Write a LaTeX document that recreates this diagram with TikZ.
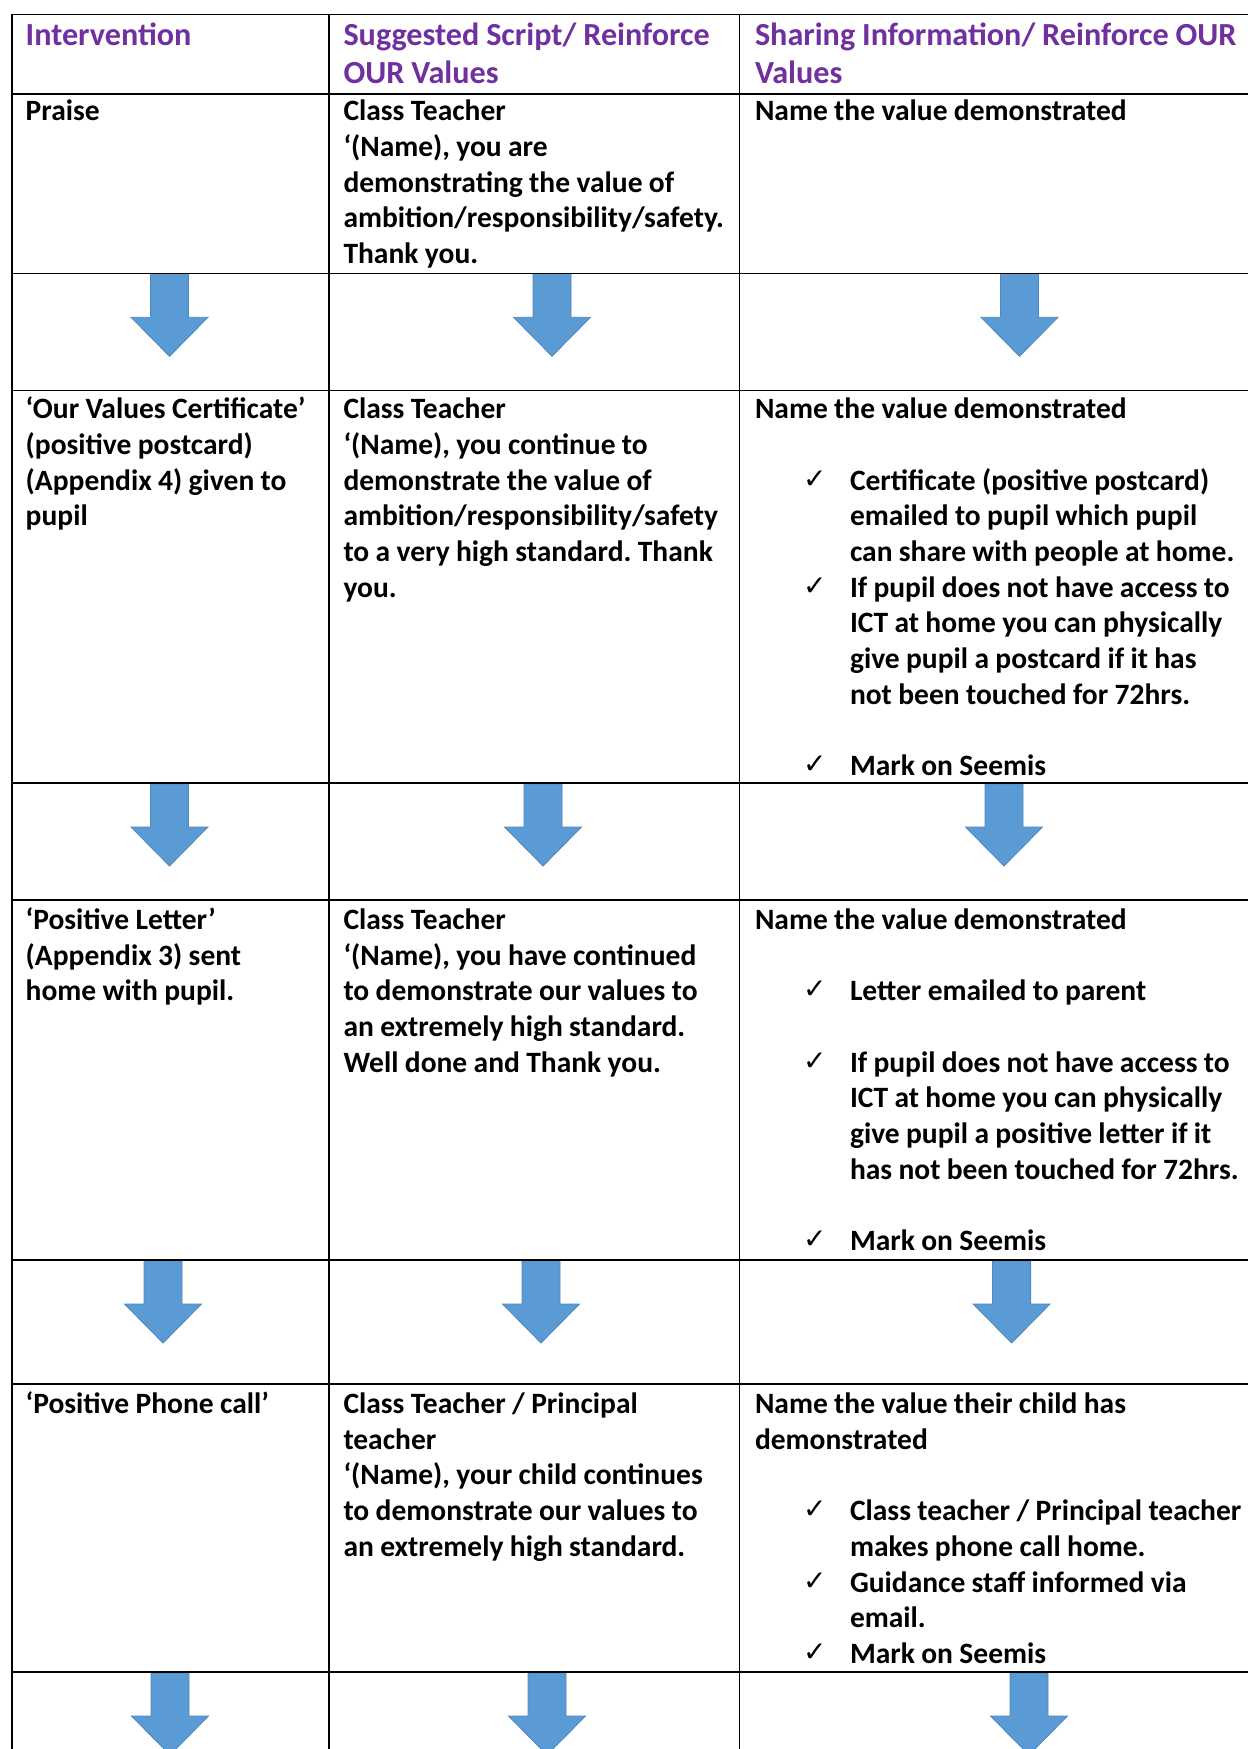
\documentclass[tikz,border=0pt]{standalone}
\usepackage{fontspec}
\setmainfont{Carlito}
\newfontfamily\chkfont{DejaVu Sans}
\definecolor{hdr}{HTML}{7030A0}
\definecolor{arr}{HTML}{5B9BD5}
\newcommand{\tightsp}{\spaceskip 0.215em plus 0.02em\relax\xspaceskip 0.215em plus 0.02em\relax}
\frenchspacing
\begin{document}
\begin{tikzpicture}[x=0.376pt,y=-0.376pt,
  body/.style={anchor=base west, inner sep=0pt, outer sep=0pt, text width=230pt, align=left,
    font={\fontsize{11.1}{13.43}\selectfont\bfseries}, execute at begin node={\tightsp}},
  head/.style={body, text=hdr, font={\fontsize{12.1}{14.65}\selectfont\bfseries}},
  tick/.style={anchor=base west, inner sep=0pt, outer sep=0pt, font=\chkfont\fontsize{10.5}{12}\selectfont},
  rule/.style={line width=0.6pt, line cap=rect},
  downarrow/.style={fill=arr, draw=arr!88!black, line width=0.3pt},
  downarr/.pic={\path[downarrow] (-19,1) -- (19,1) -- (19,44) -- (38.5,44) -- (0,83) -- (-38.5,44) -- (-19,44) -- cycle;}]
\useasboundingbox (0,0) rectangle (1247,1749);
\fill[white] (0,0) rectangle (1247,1749);

% arrows
\foreach \cx/\ty in {169.5/273.3, 552/273.3, 1019.5/273.3,
                     169.5/783, 543/783, 1004/783,
                     163/1260, 541/1260, 1011.6/1260,
                     170/1672, 547/1672, 1029/1672}
  \pic at (\cx,\ty) {downarr};

% grid
\foreach \yy in {14.5, 93.7, 273.3, 390.4, 783, 900, 1260, 1384.2, 1672}
  \draw[rule] (12,\yy) -- (1247,\yy);
\foreach \xx in {12, 329, 739.5}
  \draw[rule] (\xx,14.5) -- (\xx,1749);

% header
\node[head] (h1) at (25.7,45) {Intervention};
\node[head] (h2) at (343.5,45) {Suggested Script/ Reinforce\\OUR Values};
\node[head] (h3) at (755,45) {Sharing Information/ Reinforce OUR\\Values};

% row 1
\node[body] (a1) at (25.7,120.8) {Praise};
\node[body] (a2) at (343.5,120.8) {Class Teacher\\‘(Name), you are\\demonstrating the value of\\ambition/responsibility/safety.\\Thank you.};
\node[body] (a3) at (755,120.8) {Name the value demonstrated};

% row 2
\node[body] (b1) at (25.7,418.6) {‘Our Values Certificate’\\(positive postcard)\\(Appendix 4) given to\\pupil};
\node[body] (b2) at (343.5,418.6) {Class Teacher\\‘(Name), you continue to\\demonstrate the value of\\ambition/responsibility/safety\\to a very high standard. Thank\\you.};
\node[body] (b3) at (755,418.6) {Name the value demonstrated};
\node[tick] (b3t1) at (803,{418.6+2*35.7-2}) {✓};
\node[body] (b3i1) at (850,{418.6+2*35.7}) {Certificate (positive postcard)\\emailed to pupil which pupil\\can share with people at home.};
\node[tick] (b3t2) at (803,{418.6+5*35.7-2}) {✓};
\node[body] (b3i2) at (850,{418.6+5*35.7}) {If pupil does not have access to\\ICT at home you can physically\\give pupil a postcard if it has\\not been touched for 72hrs.};
\node[tick] (b3t3) at (803,{418.6+10*35.7-2}) {✓};
\node[body] (b3i3) at (850,{418.6+10*35.7}) {Mark on Seemis};

% row 3
\node[body] (c1) at (25.7,929.4) {‘Positive Letter’\\(Appendix 3) sent\\home with pupil.};
\node[body] (c2) at (343.5,929.4) {Class Teacher\\‘(Name), you have continued\\to demonstrate our values to\\an extremely high standard.\\Well done and Thank you.};
\node[body] (c3) at (755,929.4) {Name the value demonstrated};
\node[tick] (c3t1) at (803,{929.4+2*35.7-2}) {✓};
\node[body] (c3i1) at (850,{929.4+2*35.7}) {Letter emailed to parent};
\node[tick] (c3t2) at (803,{929.4+4*35.7-2}) {✓};
\node[body] (c3i2) at (850,{929.4+4*35.7}) {If pupil does not have access to\\ICT at home you can physically\\give pupil a positive letter if it\\has not been touched for 72hrs.};
\node[tick] (c3t3) at (803,{929.4+9*35.7-2}) {✓};
\node[body] (c3i3) at (850,{929.4+9*35.7}) {Mark on Seemis};

% row 4
\node[body] (d1) at (25.7,1413.5) {‘Positive Phone call’};
\node[body] (d2) at (343.5,1413.5) {Class Teacher / Principal\\teacher\\‘(Name), your child continues\\to demonstrate our values to\\an extremely high standard.};
\node[body] (d3) at (755,1413.5) {Name the value their child has\\demonstrated};
\node[tick] (d3t1) at (803,{1413.5+3*35.7-2}) {✓};
\node[body] (d3i1) at (850,{1413.5+3*35.7}) {Class teacher / Principal teacher\\makes phone call home.};
\node[tick] (d3t2) at (803,{1413.5+5*35.7-2}) {✓};
\node[body] (d3i2) at (850,{1413.5+5*35.7}) {Guidance staff informed via\\email.};
\node[tick] (d3t3) at (803,{1413.5+7*35.7-2}) {✓};
\node[body] (d3i3) at (850,{1413.5+7*35.7}) {Mark on Seemis};
\end{tikzpicture}
\end{document}
